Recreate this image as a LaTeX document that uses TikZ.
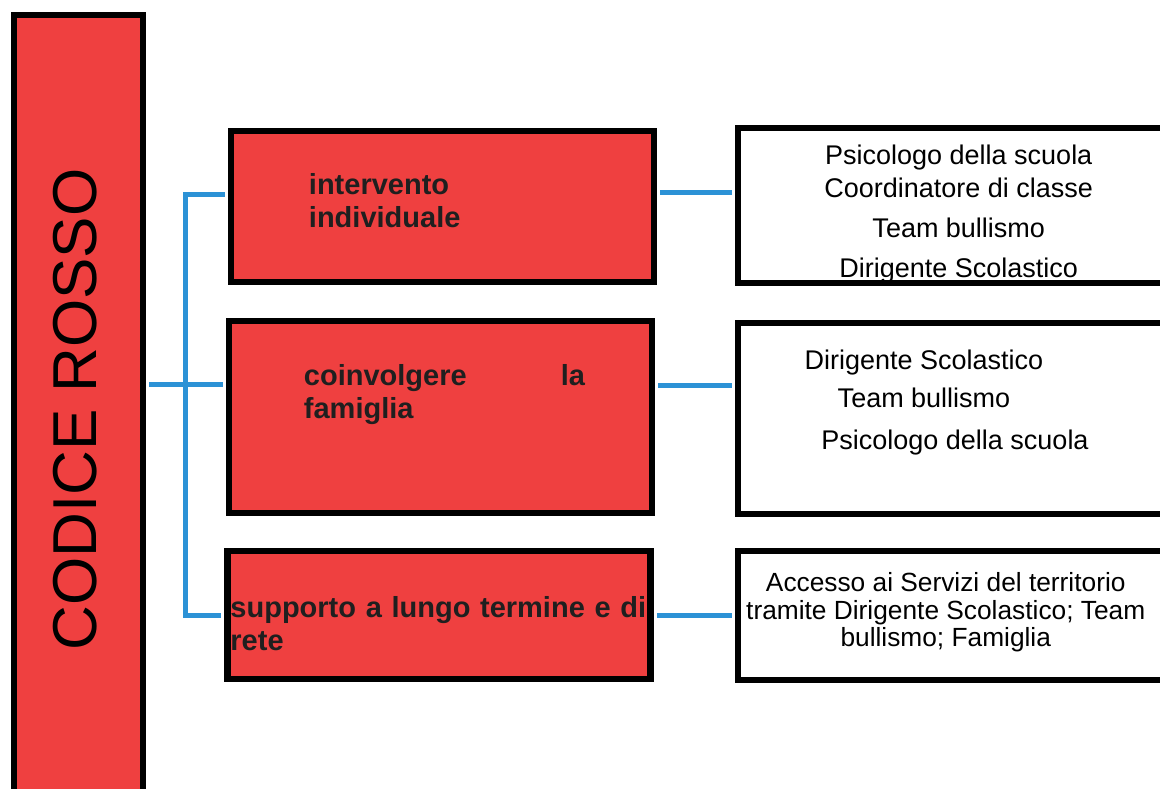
\documentclass[tikz,border=0pt]{standalone}
\usepackage{fontspec}
\setmainfont{Liberation Sans}
\definecolor{rosso}{RGB}{239,64,64}
\definecolor{linea}{RGB}{44,146,214}
\hyphenpenalty=10000
\tolerance=10000
\hbadness=10000

\begin{document}
\begin{tikzpicture}[x=1pt,y=-1pt,
  fascia/.style={draw=black,line width=6pt,fill=rosso,inner sep=0pt,minimum width=129pt,minimum height=795pt},
  azione/.style={draw=black,line width=6.5pt,fill=rosso,inner sep=0pt,minimum width=423pt},
  ruoli/.style={draw=black,line width=6pt,fill=white,inner sep=0pt,minimum width=442pt},
  voce/.style={anchor=north west,inner sep=0pt,text=black!88,font=\fontsize{29}{33}\selectfont\bfseries,align=justify,text width=281pt},
  nomi/.style={anchor=north,inner sep=0pt,align=center,font=\fontsize{27}{33}\selectfont},
  filo/.style={linea,line width=5pt,shorten <=3pt,shorten >=3pt},
]
\useasboundingbox (0,0) rectangle (1160,789);
\clip (0,0) rectangle (1160,789);

\node[fascia] (codice) at (78.5,413) {};
\node[rotate=90,inner sep=0pt,font=\fontsize{62}{62}\selectfont] (titolo) at (75,409.5) {CODICE ROSSO};

% tre interventi
\node[azione,minimum height=151pt] (individuale) at (442.5,206.5) {};
\node[azione,minimum height=192pt] (famiglia) at (440.5,417) {};
\node[azione,minimum height=128pt] (rete) at (439,615) {};
\node[voce] (t1) at ([xshift=81pt,yshift=-46pt]individuale.north west) {intervento\\individuale};
\node[voce] (t2) at ([xshift=78pt,yshift=-47pt]famiglia.north west) {coinvolgere la famiglia};
\node[voce,text width=430pt,align=left] (t3) at ([xshift=6pt,yshift=-49pt]rete.north west) {supporto a lungo termine e di rete};

% chi se ne occupa
\node[ruoli,minimum height=154pt] (r1) at (958.75,205.5) {};
\node[ruoli,minimum height=191pt] (r2) at (958.75,418) {};
\node[ruoli,minimum height=129pt] (r3) at (958.75,615) {};
\node[nomi] (n1) at ([yshift=-19pt]r1.north) {Psicologo della scuola\\Coordinatore di classe\\[7pt]Team bullismo\\[7pt]Dirigente Scolastico};
\node[nomi] (n2) at ([xshift=-34.75pt,yshift=-30.5pt]r2.north) {Dirigente Scolastico\\[5pt]Team bullismo\\[9pt]\hspace*{62pt}Psicologo della scuola};
\node[nomi,font=\fontsize{26.3}{27.5}\selectfont] (n3) at ([xshift=-13pt,yshift=-25pt]r3.north) {Accesso ai Servizi del territorio\\tramite Dirigente Scolastico; Team\\bullismo; Famiglia};

% collegamenti
\coordinate (snodo) at (185,384);
\draw[filo] (codice.east |- snodo) -- (famiglia.west |- snodo);
\draw[filo] ([yshift=11.5pt]individuale.west) -| (snodo |- rete.west) -- (rete.west);
\draw[filo] ([yshift=13.5pt]individuale.east) coordinate (u1) -- (u1 -| r1.west);
\draw[filo] ([yshift=32pt]famiglia.east) coordinate (u2) -- (u2 -| r2.west);
\draw[filo] (rete.east) -- (r3.west);
\end{tikzpicture}
\end{document}
